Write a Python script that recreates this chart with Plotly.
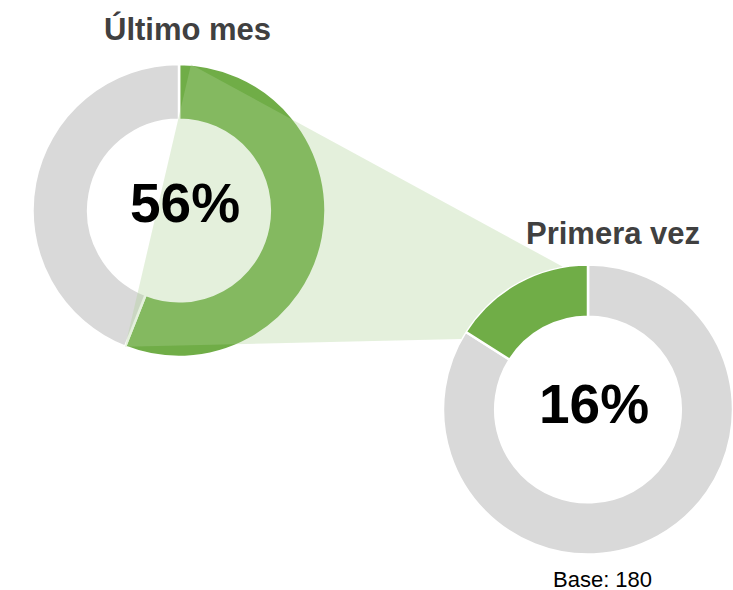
import numpy as np
import plotly.graph_objects as go

W, H = 733, 590

# data
slice_labels = ["Sí", "No"]
ultimo_mes = [56, 44]
primera_vez = [16, 84]
titles = ["Último mes", "Primera vez"]
base_n = 180

GREEN = "#70ad47"
GRAY = "#d9d9d9"
FONT = "Liberation Sans, Arial, Helvetica, sans-serif"


def px(x):
    return x / W


def py(y):
    return 1 - y / H


# donut geometry in screen pixels
left = dict(cx=179, cy=210.5, r=146.5)
right = dict(cx=588, cy=409.5, r=145)


def dom(d):
    return dict(x=[px(d["cx"] - d["r"]), min(1, px(d["cx"] + d["r"]))],
                y=[py(d["cy"] + d["r"]), py(d["cy"] - d["r"])])


def on_circle(d, deg):
    # deg measured clockwise from 12 o'clock
    t = np.radians(deg)
    return d["cx"] + d["r"] * np.sin(t), d["cy"] - d["r"] * np.cos(t)


fig = go.Figure()

fig.add_trace(go.Pie(
    labels=slice_labels, values=ultimo_mes, hole=0.62, sort=False,
    direction="clockwise", rotation=0, domain=dom(left),
    marker=dict(colors=[GREEN, GRAY], line=dict(color="white", width=2.5)),
    textinfo="none", hoverinfo="skip", showlegend=False,
))
# green slice runs counterclockwise from the top: draw it last going clockwise
fig.add_trace(go.Pie(
    labels=slice_labels[::-1], values=primera_vez[::-1], hole=0.64, sort=False,
    direction="clockwise", rotation=0, domain=dom(right),
    marker=dict(colors=[GRAY, GREEN], line=dict(color="white", width=2.5)),
    textinfo="none", hoverinfo="skip", showlegend=False,
))

# connector between the two green slices
share_left = ultimo_mes[0] / sum(ultimo_mes)
share_right = primera_vez[0] / sum(primera_vez)
a = on_circle(left, 4.7)
b = on_circle(left, 360 * share_left)
arc = [on_circle(right, t) for t in np.linspace(-10, -360 * share_right - 3.3, 40)]
pts = [a] + arc + [b]
path = "M " + " L ".join(f"{px(x):.5f},{py(y):.5f}" for x, y in pts) + " Z"

fig.add_shape(type="path", path=path, xref="paper", yref="paper",
              fillcolor="rgba(173,209,148,0.33)", line=dict(width=0),
              layer="above")

ann = [
    dict(x=px(187), y=py(29), text=f"<b>{titles[0]}</b>",
         font=dict(size=31, color="#404040")),
    dict(x=px(613), y=py(233), text=f"<b>{titles[1]}</b>",
         font=dict(size=31, color="#404040")),
    dict(x=px(184.5), y=py(203), text=f"<b>{ultimo_mes[0]}%</b>",
         font=dict(size=55, color="black")),
    dict(x=px(593.5), y=py(404), text=f"<b>{primera_vez[0]}%</b>",
         font=dict(size=55, color="black")),
    dict(x=px(602), y=py(579), text=f"Base: {base_n}", height=20,
         font=dict(size=22, color="black")),
]
for a_ in ann:
    a_.update(xref="paper", yref="paper", showarrow=False,
              xanchor="center", yanchor="middle")
    a_["font"]["family"] = FONT
    fig.add_annotation(**a_)

fig.update_layout(
    width=W, height=H,
    margin=dict(l=0, r=0, t=0, b=0),
    paper_bgcolor="white", plot_bgcolor="white",
    font=dict(family=FONT),
)

# drop the default page margin so the figure fills the window exactly
fig.write_html("out.html", config={"displayModeBar": False},
               post_script="document.body.style.margin='0';"
                           "document.body.style.overflow='hidden';")
